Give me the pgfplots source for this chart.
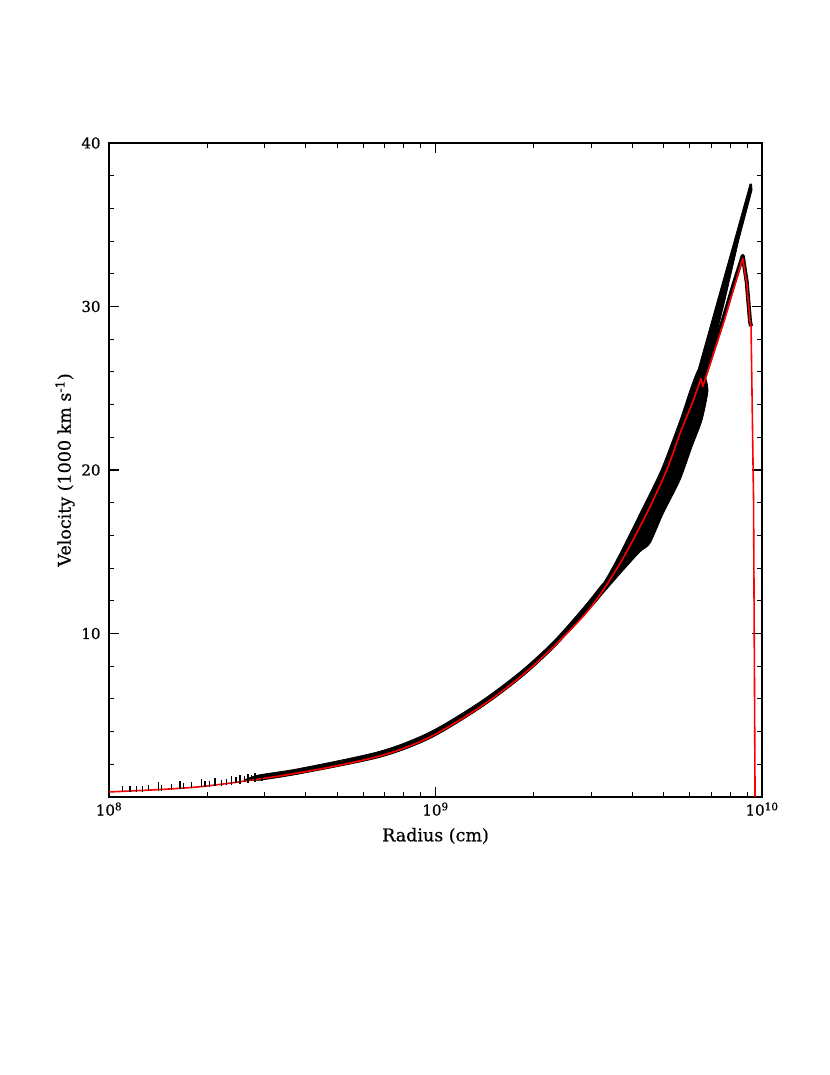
\documentclass[border=0pt]{standalone}
\usepackage{pgfplots}
\pgfplotsset{compat=1.18}
\usepackage{fontspec}
\setmainfont{DejaVu Serif}[FakeBold=0.6]
\newcommand{\tickfont}{\fontsize{15bp}{18bp}\selectfont}
\newcommand{\labfont}{\fontsize{17.5bp}{20bp}\selectfont}

\begin{document}
\begin{tikzpicture}
\path[use as bounding box] (-109bp,-278bp) rectangle (721bp,797bp);
\begin{axis}[
    at={(0,0)}, anchor=south west,
    scale only axis,
    width=653bp, height=654bp,
    xmode=log,
    xmin=1e8, xmax=1e10,
    ymin=0, ymax=40,
    xtick={1e8,1e9,1e10},
    xticklabels={10\textsuperscript{8},10\textsuperscript{9},10\textsuperscript{10}},
    minor xtick={2e8,3e8,4e8,5e8,6e8,7e8,8e8,9e8,2e9,3e9,4e9,5e9,6e9,7e9,8e9,9e9},
    ytick={10,20,30,40},
    yticklabels={10,20,30,40},
    minor ytick={2,4,6,8,12,14,16,18,22,24,26,28,32,34,36,38},
    tick align=inside,
    major tick length=10bp,
    minor tick length=5bp,
    every tick/.style={black, line width=1.1bp},
    axis line style={line width=1.3bp},
    tick label style={font=\tickfont},
    xticklabel style={yshift=-2bp},
    yticklabel style={xshift=-5bp},
    label style={font=\labfont},
    xlabel={Radius (cm)},
    ylabel={Velocity (1000 km s\textsuperscript{-1})},
    xlabel style={at={(axis description cs:0.5,-0.0596)}, anchor=center},
    ylabel style={at={(axis description cs:-0.0674,0.5)}, anchor=center},
]

% inner part of the band of shells
\addplot[fill=black, draw=black, line width=0.8bp, smooth, tension=0.5] coordinates {
    (2.60e8,1.05) (2.884e8,1.35) (3.846e8,1.75) (6.761e8,2.80) (9.616e8,3.98)
    (1.368e9,5.82) (1.816e9,7.66) (2.291e9,9.50) (2.871e9,11.70) (3.265e9,13.07)
    (3.190e9,12.25) (2.871e9,11.22) (2.291e9,9.08) (1.816e9,7.25) (1.368e9,5.42)
    (9.616e8,3.58) (6.761e8,2.43) (3.846e8,1.42) (2.884e8,1.02)
} -- cycle;

% widening wedge of shells
\addplot[fill=black, draw=black, line width=0.8bp, smooth, tension=0.4] coordinates {
    (2.700e9,11.00) (2.871e9,11.70) (3.265e9,13.07) (3.674e9,14.90) (4.229e9,17.35)
    (4.907e9,20.00) (5.610e9,23.06) (6.019e9,24.89) (6.368e9,26.12) (6.645e9,25.87)
    (6.832e9,24.89) (6.551e9,23.06) (6.104e9,21.43) (5.610e9,19.39) (4.985e9,17.35)
    (4.539e9,15.52) (4.229e9,15.00) (3.760e9,13.88) (3.190e9,12.25) (2.871e9,11.22)
} -- cycle;

% detached outer strip
\addplot[fill=black, draw=black, line width=0.8bp, line join=round] coordinates {
    (6.300e9,25.80) (6.368e9,26.12) (7.311e9,30.40) (8.233e9,34.07) (9.188e9,37.49)
    (9.286e9,37.49) (9.320e9,37.13) (8.490e9,34.07) (7.700e9,30.40) (6.850e9,26.30)
    (6.645e9,25.87)
} -- cycle;

% black shells around the red curve above the notch
\addplot[black, line width=4bp, line join=round] coordinates {
    (6.505e9,25.85) (6.584e9,25.35) (7.612e9,29.25) (8.166e9,31.30)
    (8.727e9,33.10) (8.976e9,31.50) (9.188e9,29.07) (9.254e9,28.80)
};

% inner shells, drawn as short dashes
\addplot[black, only marks, mark=|, mark size=3bp, mark options={line width=1.3bp}] coordinates {
    (1.102e8,0.46) (1.159e8,0.48) (1.216e8,0.50) (1.268e8,0.51) (1.318e8,0.53)
    (1.416e8,0.57) (1.449e8,0.58) (1.556e8,0.62) (1.648e8,0.66) (1.690e8,0.68)
    (1.791e8,0.72) (1.923e8,0.77) (1.968e8,0.79) (2.113e8,0.84) (2.213e8,0.88)
    (2.377e8,0.94) (2.518e8,1.00) (2.667e8,1.06) (2.799e8,1.11) (2.944e8,1.17)
    (1.416e8,0.72) (1.648e8,0.81) (1.923e8,0.92) (2.113e8,0.99) (2.377e8,1.09)
    (2.518e8,1.15) (2.667e8,1.21) (2.799e8,1.26) (2.030e8,0.81) (2.290e8,0.93)
    (2.450e8,1.01) (2.600e8,1.08) (2.730e8,1.15)
};

% red curve, smooth inner part
\addplot[red, line width=1.6bp, smooth, tension=0.5] coordinates {
    (1.0e8,0.31) (1.901e8,0.63) (3.846e8,1.49) (6.761e8,2.51) (9.616e8,3.67)
    (1.368e9,5.50) (1.816e9,7.34) (2.291e9,9.17) (2.973e9,11.54) (3.674e9,14.29)
    (4.436e9,17.35) (5.107e9,20.00) (5.610e9,22.24) (6.162e9,24.28) (6.505e9,25.61)
};
% red curve, outer part with the notch, the peak and the drop
\addplot[red, line width=1.6bp, line join=round] coordinates {
    (6.505e9,25.61) (6.584e9,25.10) (7.612e9,28.97) (8.166e9,31.01) (8.727e9,32.95)
    (8.976e9,31.42) (9.188e9,29.07) (9.254e9,28.80) (9.419e9,18.17) (9.519e9,0)
};
\end{axis}
\end{tikzpicture}
\end{document}
